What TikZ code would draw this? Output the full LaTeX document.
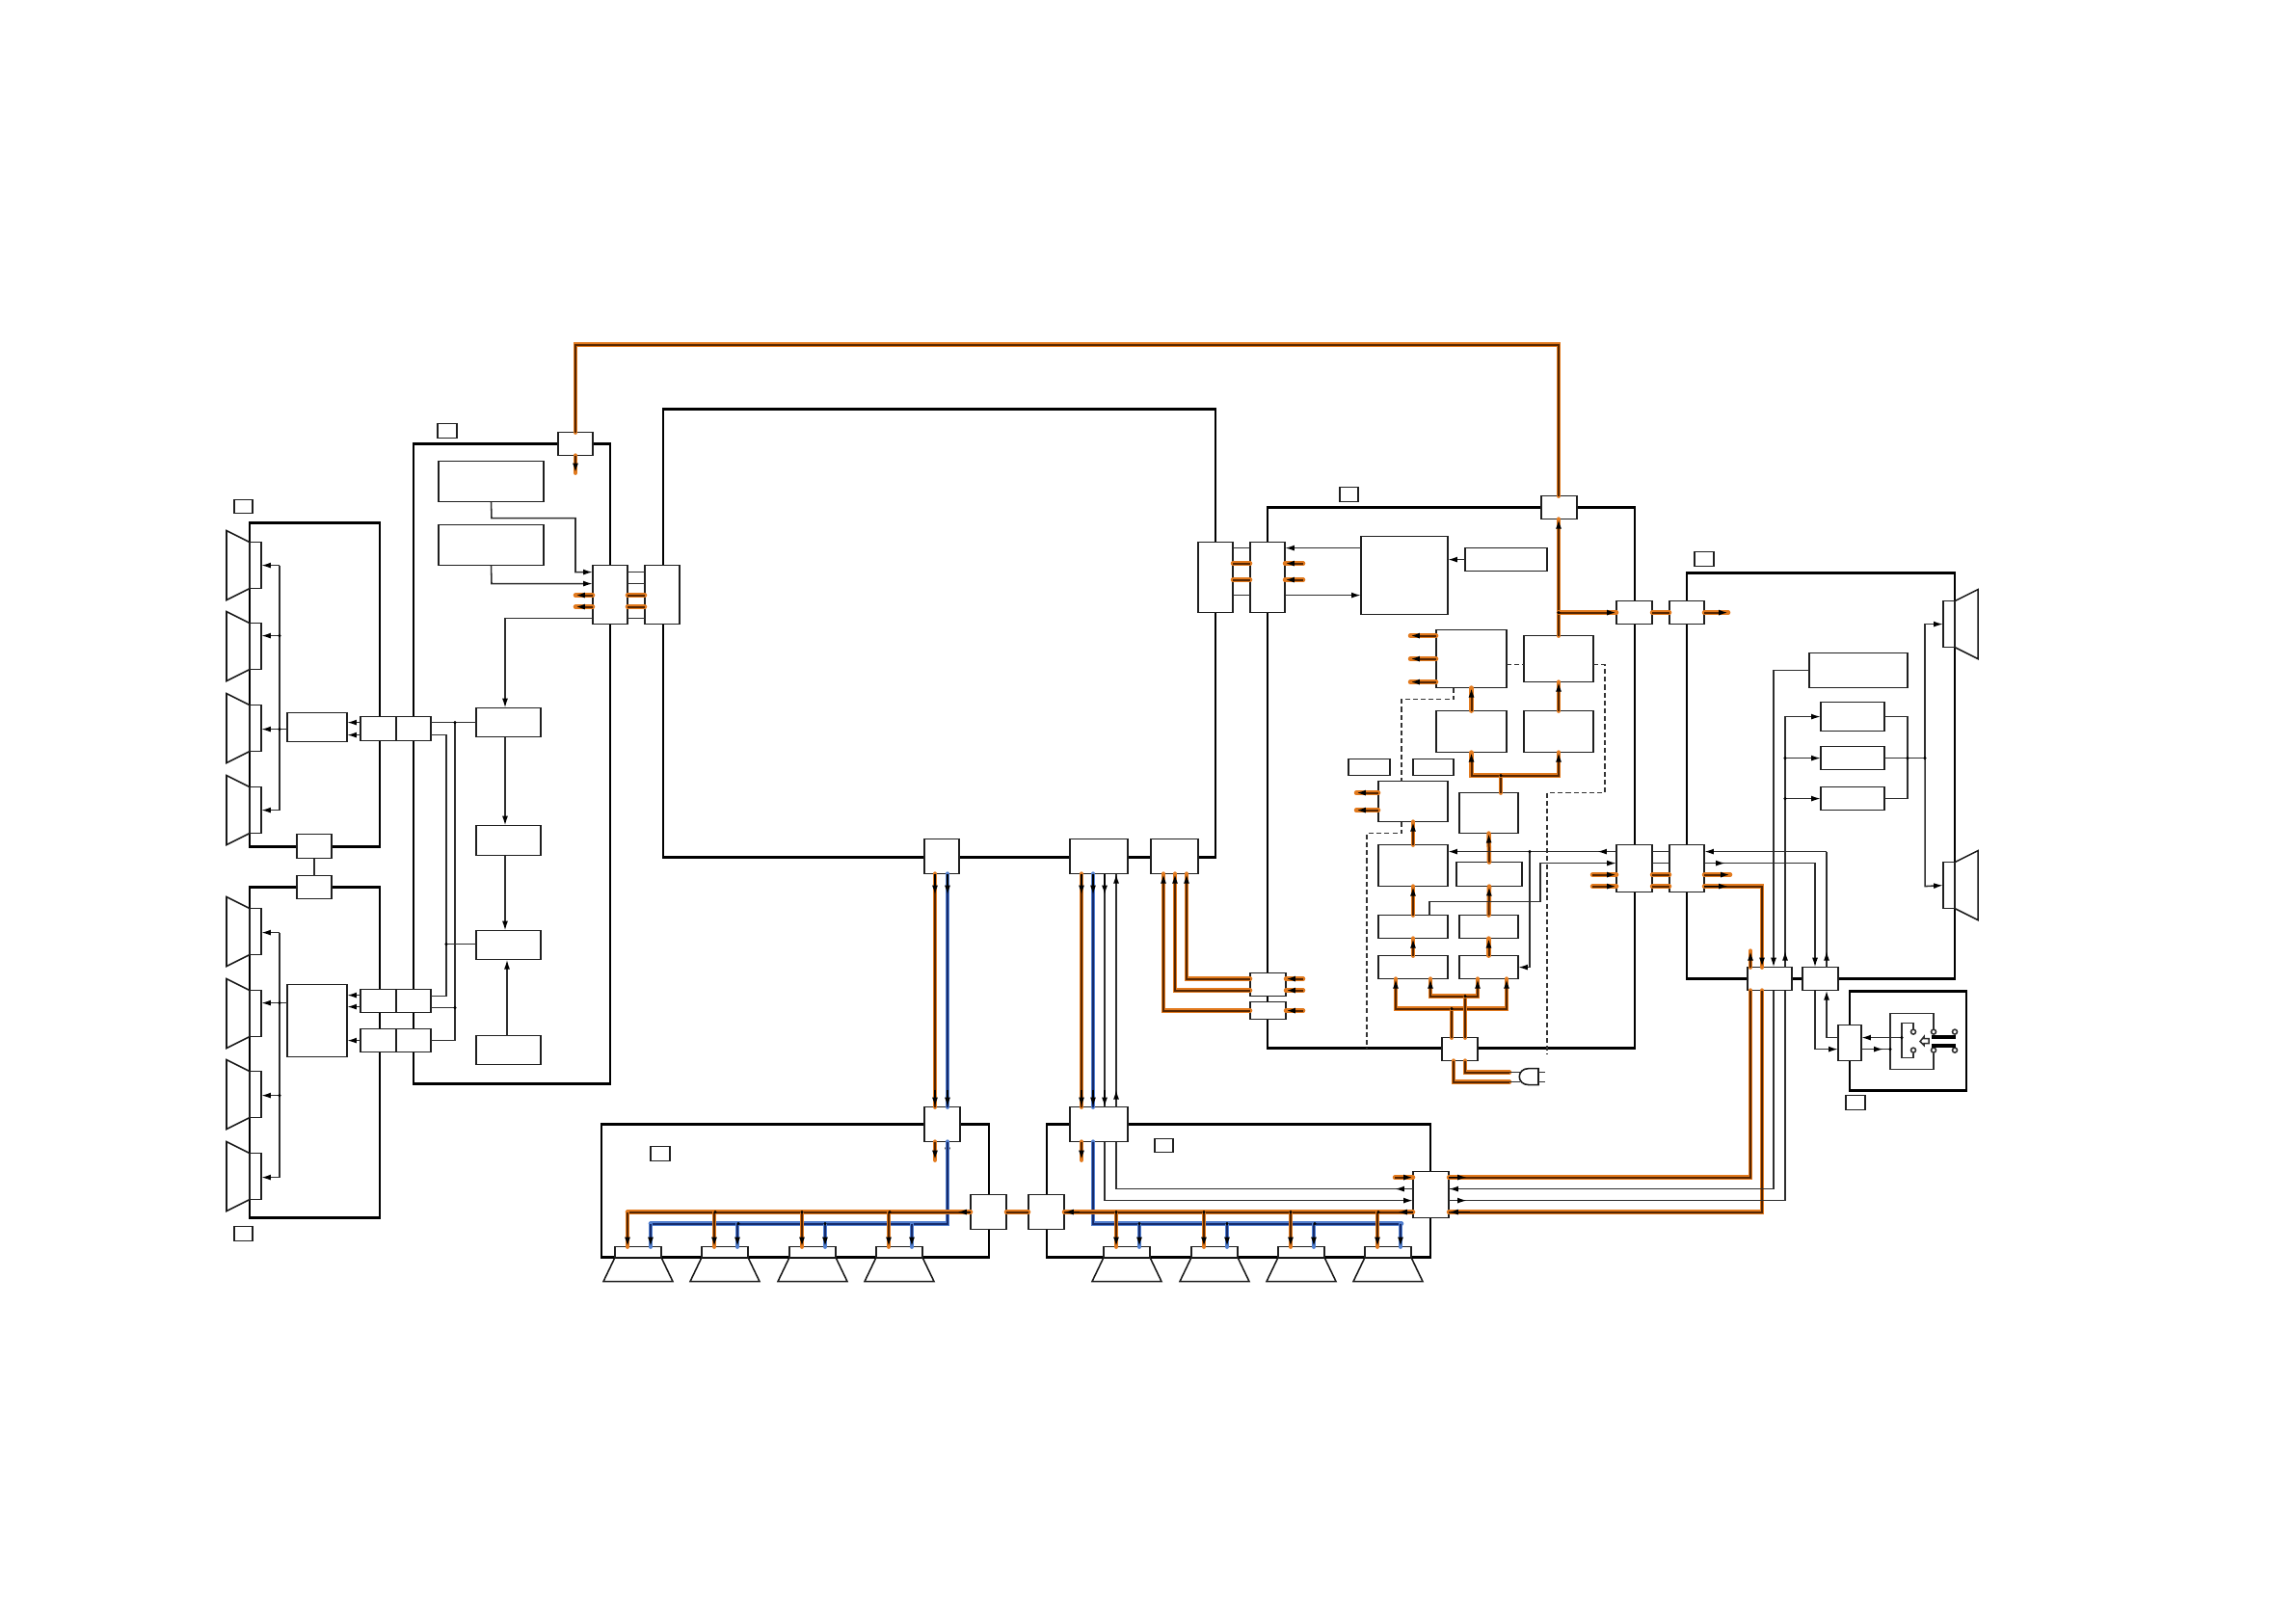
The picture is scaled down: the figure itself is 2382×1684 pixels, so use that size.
\documentclass[tikz,border=0pt]{standalone}
\usepackage{tikz}
\usetikzlibrary{arrows.meta,calc}
\definecolor{mainsor}{RGB}{226,122,30}
\definecolor{mainscore}{RGB}{88,38,0}
\definecolor{sigbl}{RGB}{82,128,208}
\definecolor{sigcore}{RGB}{22,44,110}
\tikzset{
  box/.style={draw=black!88, fill=white, line width=.55pt, inner sep=0pt, outer sep=0pt},
  panel/.style={draw=black, line width=1pt, inner sep=0pt, outer sep=0pt},
  wire/.style={draw=black!82, line width=.55pt},
  cable/.style={preaction={draw=mainsor, line width=1.6pt, arrows=-, line cap=round}, draw=mainscore, line width=.7pt},
  sigcable/.style={preaction={draw=sigbl, line width=1.6pt, arrows=-, line cap=round}, draw=sigcore, line width=.7pt},
  arr/.style={-{Latex[length=3.5pt,width=2.1pt,color=black]}},
  core/.style={draw=black, line width=.6pt},
  dashwire/.style={draw=black!80, line width=.55pt, dash pattern=on 1.8pt off 1.1pt},
  horn/.style={draw=black!90, line width=.55pt}
}
\newcommand{\bx}[6][box]{\node[#1, minimum width={(#5-#3)*0.3535pt}, minimum height={(#6-#4)*0.3535pt}] (#2) at ({(#3+#5)/2},{(#4+#6)/2}) {};}
\begin{document}
\begin{tikzpicture}[x=0.3535pt, y=-0.3535pt]
  \useasboundingbox (0,0) rectangle (2382,1684);
  \begin{scope}[shift={(0,.6)}]
  \bx[panel]{panA}{259}{542}{394}{878}
  \bx[panel]{panB}{259}{920}{394}{1263}
  \bx[panel]{panMid}{429}{460}{633}{1124}
  \bx[panel]{panMain}{688}{424}{1261}{889}
  \bx[panel]{panPow}{1315}{526}{1696}{1087}
  \bx[panel]{panRight}{1750}{594}{2028}{1015}
  \bx[panel]{panSw}{1919}{1028}{2040}{1131}
  \bx[panel]{panLow}{624}{1166}{1026}{1304}
  \bx[panel]{panHigh}{1086}{1166}{1484}{1304}

  \bx{labA}{243}{518}{262}{532}
  \bx{labB}{243}{1272}{262}{1287}
  \bx{labMid}{454}{439}{474}{454}
  \bx{labPow}{1390}{505}{1409}{520}
  \bx{labRight}{1758}{572}{1778}{587}
  \bx{labSw}{1915}{1136}{1935}{1151}
  \bx{labLow}{675}{1189}{695}{1204}
  \bx{labHigh}{1198}{1181}{1217}{1195}
  \bx{tagA}{1399}{787}{1442}{804}
  \bx{tagB}{1466}{787}{1508}{804}

  \foreach \y in {562,646,731,816,942,1027,1111,1196} {
    \draw[horn] (259,\y) -- (235,{\y-12}) -- (235,{\y+60}) -- (259,{\y+48});
    \bx{spkL\y}{259}{\y}{271}{\y+48}
  }
  \foreach \y in {623,894} {
    \draw[horn] (2028,\y) -- (2052,{\y-12}) -- (2052,{\y+60}) -- (2028,{\y+48});
    \bx{spkR\y}{2016}{\y}{2028}{\y+48}
  }
  \foreach \x in {638,728,819,909,1145,1236,1326,1416} {
    \draw[horn] (\x,1304) -- ({\x-12},1329) -- ({\x+60},1329) -- ({\x+48},1304);
    \bx{spkD\x}{\x}{1293}{\x+48}{1304}
  }

  \bx{ampA}{298}{739}{360}{769}
  \bx{ampB}{298}{1021}{360}{1096}
  \bx{conAa}{374}{743}{411}{768}
  \bx{conAb}{411}{743}{447}{768}
  \bx{conBa}{374}{1026}{411}{1050}
  \bx{conBb}{411}{1026}{447}{1050}
  \bx{conCa}{374}{1067}{411}{1091}
  \bx{conCb}{411}{1067}{447}{1091}
  \bx{linkA}{308}{865}{344}{890}
  \bx{linkB}{308}{908}{344}{932}
  \bx{conTop}{579}{448}{615}{472}
  \bx{srcA}{455}{478}{564}{520}
  \bx{srcB}{455}{544}{564}{586}
  \bx{stA}{494}{734}{561}{764}
  \bx{stB}{494}{856}{561}{887}
  \bx{stC}{494}{965}{561}{995}
  \bx{stD}{494}{1074}{561}{1104}
  \bx{conS}{615}{586}{651}{647}
  \bx{conT}{669}{586}{705}{647}
  \bx{conMainA}{959}{870}{995}{906}
  \bx{conMainB}{1110}{870}{1170}{906}
  \bx{conMainC}{1194}{870}{1243}{906}
  \bx{conLowA}{959}{1148}{996}{1184}
  \bx{conHighA}{1110}{1148}{1170}{1184}
  \bx{conLowB}{1007}{1239}{1044}{1275}
  \bx{conHighB}{1067}{1239}{1104}{1275}
  \bx{conHighC}{1466}{1215}{1503}{1263}
  \bx{conMainD}{1243}{562}{1279}{635}
  \bx{conPowA}{1297}{562}{1333}{635}
  \bx{conPowB}{1297}{1009}{1334}{1033}
  \bx{conPowC}{1297}{1039}{1334}{1057}
  \bx{conPowD}{1599}{514}{1636}{538}
  \bx{conPowE}{1677}{623}{1714}{647}
  \bx{conRgtA}{1732}{623}{1768}{647}
  \bx{conPowF}{1677}{876}{1714}{925}
  \bx{conRgtB}{1732}{876}{1768}{925}
  \bx{conPowG}{1496}{1076}{1533}{1100}
  \bx{psM}{1412}{556}{1502}{637}
  \bx{psN}{1520}{568}{1605}{592}
  \bx{psP}{1490}{653}{1563}{713}
  \bx{psQ}{1581}{659}{1653}{707}
  \bx{psR}{1490}{737}{1563}{780}
  \bx{psS}{1581}{737}{1653}{780}
  \bx{psT}{1514}{822}{1575}{864}
  \bx{psU}{1430}{810}{1502}{852}
  \bx{psV}{1430}{876}{1502}{919}
  \bx{psW}{1511}{894}{1579}{919}
  \bx{psXa}{1430}{949}{1502}{973}
  \bx{psXb}{1514}{949}{1575}{973}
  \bx{psYa}{1430}{991}{1502}{1015}
  \bx{psYb}{1514}{991}{1575}{1015}
  \bx{rgtTop}{1877}{677}{1979}{713}
  \bx{rgtA}{1889}{728}{1955}{758}
  \bx{rgtB}{1889}{774}{1955}{798}
  \bx{rgtC}{1889}{816}{1955}{840}
  \bx{conRgtC}{1813}{1003}{1859}{1027}
  \bx{conRgtD}{1870}{1003}{1907}{1027}
  \bx{conSw}{1907}{1063}{1931}{1100}

  \foreach \y in {586,659,756,840} \draw[wire,arr] (290,\y) -- (spkL562.east |- 0,\y);
  \foreach \y in {967,1040,1136,1221} \draw[wire,arr] (290,\y) -- (spkL942.east |- 0,\y);
  \draw[wire] (290,586) -- (290,840);
  \draw[wire] (290,967) -- (290,1221);
  \draw[wire] (ampA.west |- 0,756) -- (290,756);
  \draw[wire] (ampB.west |- 0,1040) -- (290,1040);
  \draw[wire] (linkA) -- (linkB);
  \foreach \y in {749,762} \draw[wire,arr] (conAa.west |- 0,\y) -- (ampA.east |- 0,\y);
  \foreach \y in {1032,1044} \draw[wire,arr] (conBa.west |- 0,\y) -- (ampB.east |- 0,\y);
  \draw[wire,arr] (conCa.west |- 0,1079) -- (ampB.east |- 0,1079);
  \draw[wire] (conAb.east |- 0,749) -- (stA.west |- 0,749);
  \draw[wire] (472,749) -- (472,1079) -- (conCb.east |- 0,1079);
  \draw[wire] (conAb.east |- 0,762) -- (463,762) -- (463,1033) -- (conBb.east |- 0,1033);
  \draw[wire] (conBb.east |- 0,1045) -- (472,1045);
  \draw[wire] (463,979) -- (stC.west |- 0,979);
  \draw[wire,arr] (stA.south -| 524,0) -- (stB.north -| 524,0);
  \draw[wire,arr] (stB.south -| 524,0) -- (stC.north -| 524,0);
  \draw[wire,arr] (stD.north -| 526,0) -- (stC.south -| 526,0);
  \draw[wire,arr] (srcA.south) -- (510,537) -- (597,537) -- (597,593) -- (conS.west |- 0,593);
  \draw[wire,arr] (srcB.south) -- (510,605) -- (conS.west |- 0,605);
  \draw[wire,arr] (conS.west |- 0,641) -- (524,641) -- (stA.north -| 524,0);
  \foreach \y in {593,605,641} \draw[wire] (conS.east |- 0,\y) -- (conT.west |- 0,\y);
  \foreach \y in {617,629} {
    \draw[cable] (conS.east |- 0,\y) -- (conT.west |- 0,\y);
    \draw[cable,arr] (conS.west |- 0,\y) -- (597,\y);
  }

  \draw[cable] (conTop.north) -- (597,357) -- (1617,357) -- (conPowD.north -| 1617,0);
  \draw[cable,arr] (conTop.south) -- (597,490);
  \draw[cable,arr] (psQ.north) -- (conPowD.south -| 1617,0);
  \draw[cable,arr] (1617,635) -- (conPowE.west);
  \draw[cable] (conPowE.east) -- (conRgtA.west);
  \draw[cable,arr] (conRgtA.east) -- (1793,635);
  \foreach \y in {568,617} \draw[wire] (conMainD.east |- 0,\y) -- (conPowA.west |- 0,\y);
  \foreach \y in {584,601} {
    \draw[cable] (conMainD.east |- 0,\y) -- (conPowA.west |- 0,\y);
    \draw[cable,arr] (1352,\y) -- (conPowA.east |- 0,\y);
  }
  \draw[wire,arr] (psM.west |- 0,568) -- (conPowA.east |- 0,568);
  \draw[wire,arr] (conPowA.east |- 0,617) -- (psM.west |- 0,617);
  \draw[wire,arr] (psN.west) -- (psM.east |- psN.west);
  \foreach \y in {659,683,707} \draw[cable,arr] (psP.west |- 0,\y) -- (1463,\y);
  \foreach \y in {822,840} \draw[cable,arr] (psU.west |- 0,\y) -- (1407,\y);
  \draw[cable,arr] (psR.north) -- (psP.south);
  \draw[cable,arr] (psS.north) -- (psQ.south);
  \draw[cable] (psT.north -| 1557,0) -- (1557,804);
  \draw[cable,arr] (1557,804) -| (psR.south);
  \draw[cable,arr] (1557,804) -| (psS.south);
  \draw[cable,arr] (psV.north) -- (psU.south);
  \draw[cable,arr] (psW.north) -- (psT.south);
  \draw[cable,arr] (psXa.north) -- (psV.south);
  \draw[cable,arr] (psXb.north) -- (psW.south);
  \draw[cable,arr] (psYa.north) -- (psXa.south);
  \draw[cable,arr] (psYb.north) -- (psXb.south);
  \draw[cable] (conPowG.north -| 1506,0) -- (1506,1046);
  \draw[cable,arr] (1506,1046) -| (psYa.south -| 1448,0);
  \draw[cable,arr] (1506,1046) -| (psYb.south -| 1563,0);
  \draw[cable] (conPowG.north -| 1520,0) -- (1520,1033);
  \draw[cable,arr] (1520,1033) -| (psYa.south -| 1484,0);
  \draw[cable,arr] (1520,1033) -| (psYb.south -| 1533,0);
  \draw[cable] (conPowG.south -| 1508,0) -- (1508,1122) -- (1566,1122);
  \draw[cable] (conPowG.south -| 1520,0) -- (1520,1112) -- (1566,1112);
  \draw[wire] (1566,1112) -- (1577,1112);
  \draw[wire] (1566,1122) -- (1577,1122);
  \draw[horn] (1596,1108) -- (1586,1108) .. controls (1573,1108) and (1573,1125) .. (1586,1125) -- (1596,1125) -- cycle;
  \draw[wire] (1596,1112) -- (1603,1112);
  \draw[wire] (1596,1122) -- (1603,1122);

  \draw[dashwire] (psP.south -| 1508,0) -- (1508,725) -- (1454,725) -- (psU.north -| 1454,0);
  \draw[dashwire] (psU.south -| 1454,0) -- (1454,864) -- (1418,864) -- (1418,1087);
  \draw[dashwire] (psP.east |- 0,689) -- (psQ.west |- 0,689);
  \draw[dashwire] (psQ.east |- 0,689) -- (1665,689) -- (1665,822) -- (1605,822) -- (1605,1093);

  \draw[wire,arr] (conPowF.west |- 0,883) -- (psV.east |- 0,883);
  \draw[wire,arr] (conPowF.west |- 0,883) -- (1657,883);
  \draw[wire] (1587,883) -- (1587,1003);
  \draw[wire,arr] (1587,1003) -- (psYb.east |- 0,1003);
  \draw[wire,arr] (psXa.north -| 1483,0) -- (1483,935) -- (1598,935) -- (1598,895) -- (conPowF.west |- 0,895);
  \foreach \y in {907,919} {
    \draw[cable,arr] (1652,\y) -- (conPowF.west |- 0,\y);
    \draw[cable] (conPowF.east |- 0,\y) -- (conRgtB.west |- 0,\y);
  }
  \foreach \y in {883,895} \draw[wire] (conPowF.east |- 0,\y) -- (conRgtB.west |- 0,\y);
  \draw[cable,arr] (conRgtB.east |- 0,907) -- (1795,907);
  \draw[cable,arr] (conRgtB.east |- 0,919) -- (1828,919) -- (conRgtC.north -| 1828,0);
  \draw[core,arr] (conRgtB.east |- 0,919) -- (1793,919);
  \draw[wire,arr] (1895,883) -- (conRgtB.east |- 0,883);
  \draw[wire] (1895,883) -- (conRgtD.north -| 1895,0);
  \draw[wire,arr] (conRgtD.north -| 1895,0) -- (1895,986);
  \draw[wire,arr] (conRgtB.east |- 0,895) -- (1883,895) -- (conRgtD.north -| 1883,0);
  \draw[wire,arr] (conRgtB.east |- 0,895) -- (1790,895);
  \draw[cable,arr] (conRgtC.north -| 1816,0) -- (1816,986);
  \draw[wire,arr] (rgtTop.west) -- (1840,695) -- (conRgtC.north -| 1840,0);
  \draw[wire,arr] (conRgtC.north -| 1852,0) -- (1852,743) -- (rgtA.west);
  \draw[wire,arr] (conRgtC.north -| 1852,0) -- (1852,986);
  \draw[wire,arr] (1852,786) -- (rgtB.west);
  \draw[wire,arr] (1852,828) -- (rgtC.west);
  \draw[wire] (rgtA.east) -- (1979,743) -- (1979,828) -- (rgtC.east);
  \draw[wire] (rgtB.east) -- (1997,786);
  \draw[wire,arr] (1997,786) -- (1997,647) -- (spkR623.west);
  \draw[wire,arr] (1997,786) -- (1997,919) -- (spkR894.west);

  \draw[wire,arr] (conRgtD.south -| 1883,0) -- (1883,1088) -- (conSw.west |- 0,1088);
  \draw[wire,arr] (conSw.west |- 0,1076) -- (1895,1076) -- (conRgtD.south -| 1895,0);
  \draw[wire,arr] (1973,1076) -- (conSw.east |- 0,1076);
  \draw[wire] (conSw.east |- 0,1088) -- (1961,1088);
  \draw[wire,arr] (conSw.east |- 0,1088) -- (1954,1088);
  \draw[wire] (2006,1067) -- (2006,1051) -- (1961,1051) -- (1961,1109) -- (2006,1109) -- (2006,1092);
  \draw[wire] (1985,1067) -- (1985,1061) -- (1973,1061) -- (1973,1097) -- (1985,1097) -- (1985,1092);
  \foreach \x in {1985,2006,2028} {
    \draw[wire] (\x,1070) circle (2.5);
    \draw[wire] (\x,1089) circle (2.5);
  }
  \draw[line width=1.4pt] (2004,1075) -- (2029,1075);
  \draw[line width=1.4pt] (2004,1084) -- (2029,1084);
  \draw[wire] (1992,1080) -- (1996,1075) -- (1996,1077) -- (2001,1077) -- (2001,1082) -- (1996,1082) -- (1996,1084) -- cycle;

  \draw[cable] (conMainA.south -| 970,0) -- (conLowA.north -| 970,0);
  \draw[sigcable] (conMainA.south -| 983,0) -- (conLowA.north -| 983,0);
  \draw[cable] (conMainB.south -| 1122,0) -- (conHighA.north -| 1122,0);
  \draw[sigcable] (conMainB.south -| 1134,0) -- (conHighA.north -| 1134,0);
  \draw[wire] (conMainB.south -| 1146,0) -- (conHighA.north -| 1146,0);
  \draw[wire] (conMainB.south -| 1158,0) -- (conHighA.north -| 1158,0);
  \foreach \x in {970,983} {
    \draw[core,arr] (\x,906) -- (\x,928);
    \draw[core,arr] (\x,1130) -- (\x,1148);
  }
  \foreach \x in {1122,1134,1146} {
    \draw[core,arr] (\x,906) -- (\x,928);
    \draw[core,arr] (\x,1130) -- (\x,1148);
  }
  \draw[wire,arr] (1158,920) -- (1158,906);
  \draw[wire,arr] (1158,1148) -- (1158,1130);
  \draw[cable,arr] (conLowA.south -| 970,0) -- (970,1203);
  \draw[cable,arr] (conHighA.south -| 1122,0) -- (1122,1203);
  \draw[core,arr] (983,1184) -- (983,1200);

  \draw[sigcable] (conLowA.south -| 983,0) -- (983,1269) -- (675,1269);
  \draw[sigcable] (conHighA.south -| 1134,0) -- (1134,1269) -- (1454,1269);
  \draw[cable] (conLowB.west) -- (651,1257);
  \draw[cable] (conHighB.west) -- (conLowB.east);
  \draw[cable] (conHighB.east) -- (conHighC.west |- 0,1257);
  \draw[core,arr] (1007,1257) -- (993,1257);
  \draw[core,arr] (1120,1257) -- (conHighB.east);
  \draw[core,arr] (1466,1257) -- (1450,1257);
  \foreach \x in {638,728,819,909,1145,1236,1326,1416} {
    \draw[cable,arr] ($(spkD\x.north west)+(13,-36)$) -- ($(spkD\x.north west)+(13,0)$);
    \draw[sigcable,arr] ($(spkD\x.north west)+(37,-24)$) -- ($(spkD\x.north west)+(37,0)$);
  }

  \draw[cable,arr] (conPowC.west |- 0,1048) -| (conMainC.south -| 1207,0);
  \draw[cable,arr] (conPowB.west |- 0,1027) -| (conMainC.south -| 1219,0);
  \draw[cable,arr] (conPowB.west |- 0,1015) -| (conMainC.south -| 1231,0);
  \draw[cable,arr] (1352,1015) -- (conPowB.east |- 0,1015);
  \draw[cable,arr] (1352,1027) -- (conPowB.east |- 0,1027);
  \draw[cable,arr] (1352,1048) -- (conPowC.east |- 0,1048);

  \draw[cable,arr] (1447,1221) -- (conHighC.west |- 0,1221);
  \draw[cable] (conHighC.east |- 0,1221) -- (1816,1221) -- (conRgtC.south -| 1816,0);
  \draw[core,arr] (conHighC.east |- 0,1221) -- (1522,1221);
  \draw[cable] (conHighC.east |- 0,1257) -- (1828,1257) -- (conRgtC.south -| 1828,0);
  \draw[core,arr] (1525,1257) -- (conHighC.east |- 0,1257);
  \draw[wire] (conHighC.east |- 0,1233) -- (1840,1233) -- (conRgtC.south -| 1840,0);
  \draw[wire,arr] (1525,1233) -- (conHighC.east |- 0,1233);
  \draw[wire] (conHighC.east |- 0,1245) -- (1852,1245) -- (conRgtC.south -| 1852,0);
  \draw[wire,arr] (conHighC.east |- 0,1245) -- (1522,1245);
  \draw[wire,arr] (conHighA.south -| 1146,0) -- (1146,1245) -- (conHighC.west |- 0,1245);
  \draw[wire] (conHighA.south -| 1158,0) -- (1158,1233) -- (conHighC.west |- 0,1233);
  \draw[wire,arr] (conHighC.west |- 0,1233) -- (1447,1233);

  \foreach \x/\y in {290/756,290/659,290/1040,290/1136,472/749,463/979,472/1045,1617/635,1557/804,1506/1046,1520/1033,1587/883,1852/786,1852/828,1979/786,1997/786,1973/1076,1961/1088,742/1257,832/1257,923/1257,766/1269,856/1269,1158/1257,1249/1257,1339/1257,1430/1257,1182/1269,1273/1269,1364/1269}
    \fill (\x,\y) circle (1.7);
  \end{scope}
\end{tikzpicture}
\end{document}
